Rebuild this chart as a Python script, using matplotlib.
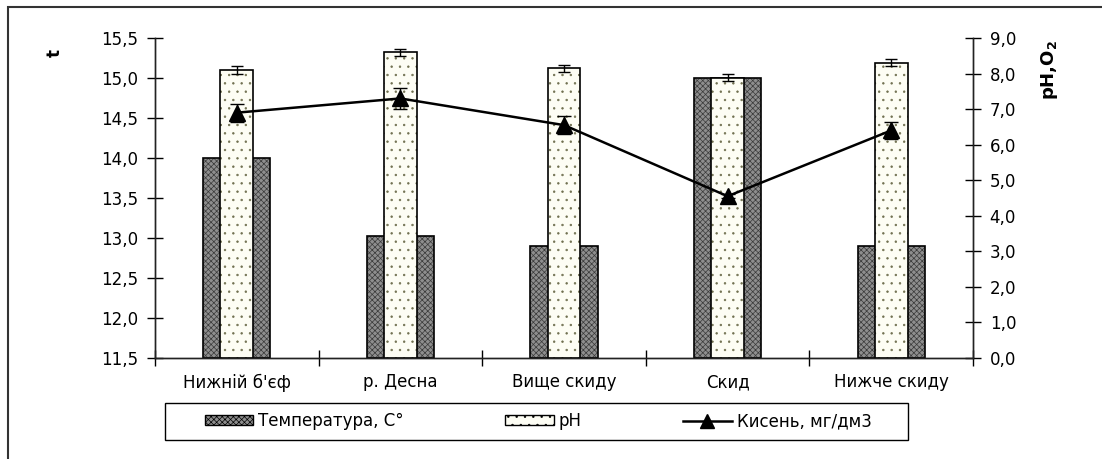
import numpy as np
import matplotlib
matplotlib.use("Agg")
import matplotlib.pyplot as plt
from matplotlib.ticker import FuncFormatter, MultipleLocator, FixedLocator
from matplotlib.patches import Rectangle, Patch
from matplotlib.lines import Line2D

plt.rcParams['font.family'] = ['DejaVu Sans']
plt.rcParams['hatch.linewidth'] = 0.5

sites = ['Нижній б\'єф', 'р. Десна', 'Вище скиду', 'Скид', 'Нижче скиду']
temp = [14.0, 13.03, 12.9, 15.0, 12.9]
ph = [8.1, 8.6, 8.15, 7.88, 8.3]
ph_err = [0.1, 0.1, 0.1, 0.1, 0.1]
oxygen = [6.9, 7.3, 6.55, 4.55, 6.4]
oxygen_err = [0.25, 0.3, 0.25, 0.05, 0.25]

x = np.arange(len(sites))
comma = FuncFormatter(lambda v, p: '{:.1f}'.format(v).replace('.', ','))
fs = 12
temp_face, temp_hatch = '#8e8e8e', '#3a3a3a'
ph_face, ph_dots = '#fdfdf4', '#707050'

fig = plt.figure(figsize=(11.02, 4.59), dpi=100)
ax = fig.add_axes([155/1102, 1-358/459, (973-155)/1102, 320/459])
ax2 = ax.twinx()

# temperature bars (left axis)
ax.bar(x, np.array(temp) - 11.5, bottom=11.5, width=0.41, color=temp_face,
       edgecolor=temp_hatch, hatch='xxxxxx', linewidth=0)
ax.bar(x, np.array(temp) - 11.5, bottom=11.5, width=0.41, fill=False,
       edgecolor='black', linewidth=1.2)

# pH bars (right axis)
ax2.bar(x, ph, width=0.2, color=ph_face, edgecolor=ph_dots, hatch='..', linewidth=0)
ax2.bar(x, ph, width=0.2, fill=False, edgecolor='black', linewidth=1.2)
ax2.errorbar(x, ph, yerr=ph_err, fmt='none', ecolor='black', elinewidth=1,
             capsize=4, capthick=1)

# oxygen line
ax2.errorbar(x, oxygen, yerr=oxygen_err, color='black', linewidth=1.8,
             marker='^', markersize=11, ecolor='black', elinewidth=1,
             capsize=5, capthick=1)

ax.set_xlim(-0.5, 4.5)
ax.set_ylim(11.5, 15.5)
ax2.set_ylim(0, 9)
ax.yaxis.set_major_locator(MultipleLocator(0.5))
ax2.yaxis.set_major_locator(MultipleLocator(1.0))
ax.yaxis.set_major_formatter(comma)
ax2.yaxis.set_major_formatter(comma)

ax.set_xticks(x)
ax.set_xticklabels(sites, fontsize=fs)
ax.xaxis.set_minor_locator(FixedLocator(np.arange(-0.5, 5, 1)))
ax.tick_params(axis='x', which='major', length=0, pad=11)
ax.tick_params(axis='x', which='minor', direction='inout', length=12, width=1)
ax.tick_params(axis='y', direction='inout', length=12, width=1, labelsize=fs, pad=6)
ax2.tick_params(axis='y', direction='inout', length=12, width=1, labelsize=fs, pad=6)

for a in (ax, ax2):
    a.spines['top'].set_visible(False)
    for s in ('left', 'right', 'bottom'):
        a.spines[s].set_linewidth(1)
        a.spines[s].set_color('#222222')

fig.text(55/1102, 1-53/459, 't', rotation=90, fontsize=12, fontweight='bold',
         ha='center', va='center')
fig.text(1049/1102, 1-70/459, r'pH,O$_\mathbf{2}$', rotation=90, fontsize=13,
         fontweight='bold', ha='center', va='center')

# legend frame drawn separately, entries placed inside
fig.patches.append(Rectangle((165/1102, 1-440/459), (908-165)/1102, 37/459,
                             transform=fig.transFigure, fill=False,
                             edgecolor='black', linewidth=1))
handles = [Patch(facecolor=temp_face, edgecolor='black', hatch='xxxxxx'),
           Patch(facecolor=ph_face, edgecolor='black', hatch='..'),
           Line2D([], [], color='black', linewidth=1.8, marker='^', markersize=10)]
labels = ['Температура, С°', 'pH', 'Кисень, мг/дм3']
leg = fig.legend(handles, labels, loc='center', ncol=3,
                 bbox_to_anchor=(538/1102, 1-421/459),
                 fontsize=fs, frameon=False, handlelength=2.9, handleheight=0.55,
                 handletextpad=0.3, columnspacing=6.1, borderaxespad=0)

fig.patches.append(Rectangle((8/1102, -0.1), 1.2, 1.1-7/459, transform=fig.transFigure,
                             fill=False, edgecolor='#333333', linewidth=1.5))

fig.savefig('out.png', dpi=100)
